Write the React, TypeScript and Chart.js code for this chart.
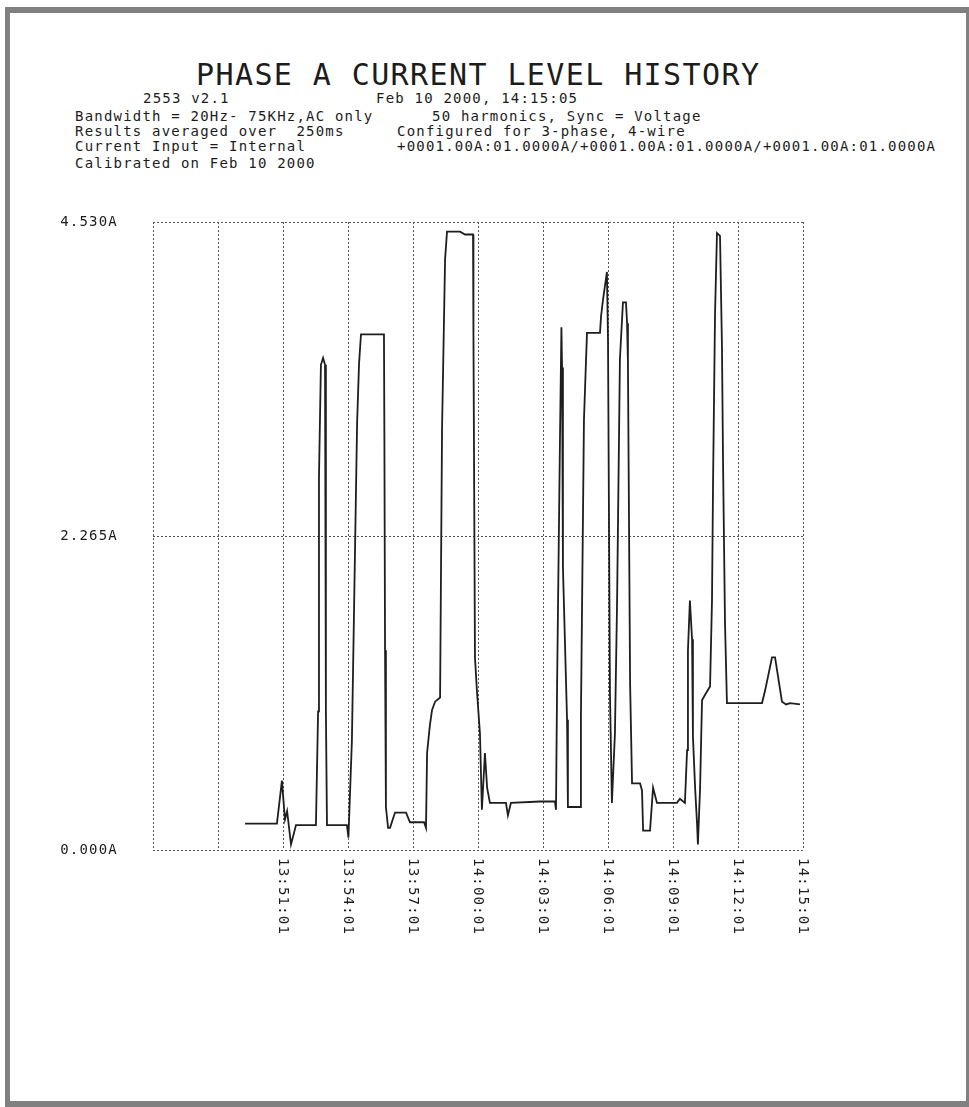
import React, { useEffect, useRef } from "react";
import { Chart, registerables } from "chart.js";

Chart.register(...registerables);

// Minutes elapsed since 13:45:01
const xMinutes = [
  4.25, 5.72, 5.95, 6.09, 6.19, 6.37, 6.6, 7.52, 7.62, 7.66, 7.75, 7.85, 7.94, 7.98, 8.03,
  8.95, 9.02, 9.18, 9.42, 9.51, 9.6, 10.66, 10.68, 10.71, 10.75, 10.85, 10.94, 11.17, 11.68,
  11.86, 12.51, 12.6, 12.65, 12.78, 12.88, 13.02, 13.25, 13.34, 13.48, 13.57, 14.17, 14.4,
  14.77, 14.79, 14.86, 14.95, 15.09, 15.18, 15.32, 15.42, 15.55, 16.29, 16.38, 16.52, 17.86,
  18.55, 18.6, 18.65, 18.78, 18.85, 18.88, 18.92, 19.11, 19.15, 19.71, 19.75, 19.89, 20.03,
  20.63, 20.68, 20.77, 20.95, 21.0, 21.09, 21.18, 21.32, 21.42, 21.55, 21.69, 21.83, 21.88,
  21.92, 22.02, 22.11, 22.48, 22.57, 22.62, 22.94, 23.08, 23.26, 24.18, 24.32, 24.55, 24.65,
  24.69, 24.78, 24.88, 24.92, 25.02, 25.11, 25.15, 25.25, 25.34, 25.48, 25.71, 25.8, 25.85,
  25.94, 26.03, 26.17, 26.26, 26.31, 26.4, 26.49, 28.11, 28.25, 28.57, 28.71, 29.03, 29.22,
  29.4, 29.86,
];

// Phase A current (A)
const currentA = [
  0.19, 0.19, 0.5, 0.22, 0.28, 0.04, 0.18, 0.18, 1.0, 2.69, 3.5, 3.55, 3.5, 1.0, 0.18,
  0.18, 0.09, 0.79, 3.08, 3.51, 3.72, 3.72, 2.96, 1.44, 0.31, 0.16, 0.16, 0.27, 0.27,
  0.2, 0.2, 0.16, 0.7, 0.9, 1.01, 1.07, 1.1, 3.03, 4.26, 4.46, 4.46, 4.44,
  4.44, 3.72, 1.39, 1.15, 0.84, 0.29, 0.7, 0.45, 0.34, 0.34, 0.25, 0.34, 0.35,
  0.35, 0.29, 1.18, 2.92, 3.77, 3.48, 2.04, 0.94, 0.31, 0.31, 0.96, 3.1, 3.73,
  3.73, 3.85, 3.97, 4.17, 3.68, 1.13, 0.34, 0.84, 1.8, 3.54, 3.95, 3.95, 3.8,
  3.52, 1.2, 0.48, 0.48, 0.43, 0.14, 0.14, 0.45, 0.34, 0.34, 0.37, 0.34, 0.72,
  1.44, 1.8, 1.52, 0.82, 0.45, 0.19, 0.04, 0.45, 1.08, 1.12, 1.18, 1.8, 2.67,
  3.87, 4.45, 4.43, 3.63, 2.79, 1.64, 1.06, 1.06, 1.15, 1.39, 1.39, 1.07, 1.05,
  1.06, 1.05,
];

const xTickMinutes = [0, 3, 6, 9, 12, 15, 18, 21, 24, 27, 30];
const xTickLabels = [
  "", "", "13:51:01", "13:54:01", "13:57:01", "14:00:01", "14:03:01",
  "14:06:01", "14:09:01", "14:12:01", "14:15:01",
];
const yTickValues = [0, 2.265, 4.53];
const yTickLabels = ["0.000A", "2.265A", "4.530A"];

const titleText = "PHASE A CURRENT LEVEL HISTORY";
const headerLines: { text: string; x: number; y: number }[] = [
  { text: "2553 v2.1", x: 143, y: 98 },
  { text: "Feb 10 2000, 14:15:05", x: 376, y: 98 },
  { text: "Bandwidth = 20Hz- 75KHz,AC only", x: 75, y: 116 },
  { text: "50 harmonics, Sync = Voltage", x: 432, y: 116 },
  { text: "Results averaged over  250ms", x: 75, y: 131 },
  { text: "Configured for 3-phase, 4-wire", x: 397, y: 131 },
  { text: "Current Input = Internal", x: 75, y: 146 },
  { text: "+0001.00A:01.0000A/+0001.00A:01.0000A/+0001.00A:01.0000A", x: 397, y: 146 },
  { text: "Calibrated on Feb 10 2000", x: 75, y: 163 },
];

const MONO = '"DejaVu Sans Mono", "Liberation Mono", monospace';
const INK = "#1c1c1c";

const CANVAS_TOP = 190;
const CANVAS_W = 969;
const CANVAS_H = 760;

export default function App() {
  const ref = useRef<HTMLCanvasElement | null>(null);

  useEffect(() => {
    if (!ref.current) return;
    const letterSpacingPlugin = {
      id: "letterSpacing",
      beforeDraw(chart: any) {
        (chart.ctx as any).letterSpacing = "1.2px";
      },
    };
    const rotatedXLabels = {
      id: "rotatedXLabels",
      afterDraw(chart: any) {
        const ctx = chart.ctx;
        const xs = chart.scales.x;
        const bottom = chart.chartArea.bottom;
        ctx.save();
        ctx.font = `14px ${MONO}`;
        (ctx as any).letterSpacing = "1.2px";
        ctx.fillStyle = INK;
        ctx.textAlign = "left";
        ctx.textBaseline = "middle";
        xTickMinutes.forEach((m, i) => {
          const label = xTickLabels[i];
          if (!label) return;
          const px = xs.getPixelForValue(m);
          ctx.save();
          ctx.translate(px, bottom + 8);
          ctx.rotate(Math.PI / 2);
          ctx.fillText(label, 0, 0);
          ctx.restore();
        });
        ctx.restore();
      },
    };

    const chart = new Chart(ref.current, {
      type: "line",
      data: {
        datasets: [
          {
            data: xMinutes.map((x, i) => ({ x, y: currentA[i] })),
            borderColor: "#1e1e1e",
            borderWidth: 1.8,
            pointRadius: 0,
            tension: 0,
            fill: false,
          },
        ],
      },
      options: {
        animation: false,
        responsive: false,
        devicePixelRatio: 1,
        layout: { padding: { left: 0, top: 32, right: 166, bottom: 0 } },
        plugins: {
          legend: { display: false },
          tooltip: { enabled: false },
          title: { display: false },
        },
        scales: {
          x: {
            type: "linear",
            min: 0,
            max: 30,
            afterBuildTicks: (scale: any) => {
              scale.ticks = xTickMinutes.map((v) => ({ value: v }));
            },
            afterFit: (scale: any) => {
              scale.height = 100;
              scale.paddingLeft = 0;
              scale.paddingRight = 0;
            },
            ticks: { display: false },
            grid: { color: "#555555", lineWidth: 1, drawTicks: false },
            border: { display: false, dash: [2, 2] },
          },
          y: {
            type: "linear",
            min: 0,
            max: 4.53,
            afterBuildTicks: (scale: any) => {
              scale.ticks = yTickValues.map((v) => ({ value: v }));
            },
            afterFit: (scale: any) => {
              scale.width = 153;
              scale.paddingTop = 0;
              scale.paddingBottom = 0;
            },
            ticks: {
              padding: 35,
              color: INK,
              font: { family: MONO, size: 14 },
              callback: (_v: any, i: number) => yTickLabels[i],
            },
            grid: { color: "#555555", lineWidth: 1, drawTicks: false },
            border: { display: false, dash: [2, 2] },
          },
        },
      },
      plugins: [letterSpacingPlugin, rotatedXLabels],
    } as any);

    return () => chart.destroy();
  }, []);

  return (
    <div>
      <div
        style={{
          position: "absolute",
          left: 5,
          top: 7,
          width: 964,
          height: 1100,
          boxSizing: "border-box",
          borderStyle: "solid",
          borderColor: "#808080",
          borderWidth: "6px 3px 6px 5px",
          background: "#ffffff",
        }}
      />
      <div
        style={{
          position: "absolute",
          left: 196,
          top: 60,
          fontFamily: MONO,
          fontSize: 30,
          lineHeight: "30px",
          letterSpacing: "1.4px",
          color: INK,
          whiteSpace: "pre",
        }}
      >
        {titleText}
      </div>
      {headerLines.map((l, i) => (
        <div
          key={i}
          style={{
            position: "absolute",
            left: l.x,
            top: l.y - 8,
            fontFamily: MONO,
            fontSize: 14,
            lineHeight: "16px",
            letterSpacing: "1.2px",
            color: INK,
            whiteSpace: "pre",
          }}
        >
          {l.text}
        </div>
      ))}
      <canvas
        ref={ref}
        width={CANVAS_W}
        height={CANVAS_H}
        style={{ position: "absolute", left: 0, top: CANVAS_TOP, width: CANVAS_W, height: CANVAS_H }}
      />
    </div>
  );
}
